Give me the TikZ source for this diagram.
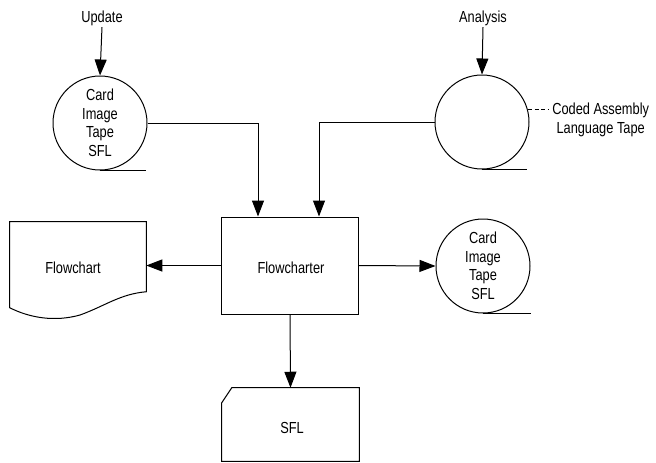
\documentclass[tikz,border=0pt]{standalone}
\usepackage{fontspec}
\setmainfont{Liberation Sans}[FakeStretch=0.80]
\usetikzlibrary{arrows.meta,calc}
\begin{document}
\begin{tikzpicture}[x=0.75pt,y=-0.75pt,
  every node/.style={font=\fontsize{12}{13.9}\selectfont},
  tape/.style={draw, circle, line width=0.75pt, minimum size=70.5pt, inner sep=0pt, align=center},
  procbox/.style={draw, line width=0.75pt, minimum width=102.75pt, minimum height=72.75pt},
  ghost/.style={draw=none, inner sep=0pt},
  ln/.style={line width=0.8pt},
  arr/.style={line width=0.75pt, -{Triangle[length=12pt,width=9pt]}},
  lbl/.style={inner sep=1pt}
]
\useasboundingbox (0,0) rectangle (656,462);

% top labels
\node[lbl] (upd) at (102,18) {Update};
\node[lbl] (ana) at (483,18) {Analysis};

% tapes
\node[tape] (c1) at (100,123) {Card\\Image\\Tape\\SFL};
\node[tape] (c2) at (482,122) {};
\node[tape] (c3) at (483,266) {Card\\Image\\Tape\\SFL};

\draw[ln] (c1.south) -- ++(46,0) coordinate (t1);
\draw[ln] (c2.south) -- ++(45,0) coordinate (t2);
\draw[ln] (c3.south) -- ++(48,0) coordinate (t3);

% coded label
\node[inner sep=0pt, anchor=west, align=center] (coded) at (552,120) {Coded Assembly\\Language Tape};
\draw[line width=0.7pt, dash pattern=on 3pt off 2pt] (c2.15) -- ($(coded.west |- c2.15)+(-3,0)$);

% flowcharter
\node[procbox] (fc) at (290,265.5) {};
\node[lbl] (fctext) at (291,268) {Flowcharter};

% document
\node[ghost, minimum width=102pt, minimum height=69pt] (doc) at (78,268) {};
\node[lbl] (doctext) at (73,268) {Flowchart};
\draw[line width=0.75pt] (doc.north west) -- (doc.north east) -- ($(doc.north east)+(0,70)$)
  .. controls (120,294) and (105,306) .. (80,315)
  .. controls (55,322) and (30,318) .. ($(doc.north west)+(0,86)$) -- cycle;

% SFL card
\node[ghost, minimum width=102.75pt, minimum height=54.75pt] (sfl) at (290.5,424.5) {};
\node[lbl] (sfltext) at (292,428) {SFL};
\draw[line width=0.75pt] ($(sfl.north west)+(0,15)$) -- ($(sfl.north west)+(10,0)$) -- (sfl.north east)
  -- (sfl.south east) -- (sfl.south west) -- cycle;

% connectors
\draw[arr] (upd.south) -- (c1.north);
\draw[arr] (ana.south) -- (c2.north);
\coordinate (in1) at ($(fc.north west)+(37,0)$);
\coordinate (in2) at ($(fc.north east)+(-40,0)$);
\draw[arr] (c1.east) -| (in1);
\draw[arr] (c2.west) -| (in2);
\draw[arr] (fc.west) -- (fc.west -| doc.east);
\draw[arr] (fc.east) -- (c3.west);
\draw[arr] (fc.south) -- (sfl.north);
\end{tikzpicture}
\end{document}
